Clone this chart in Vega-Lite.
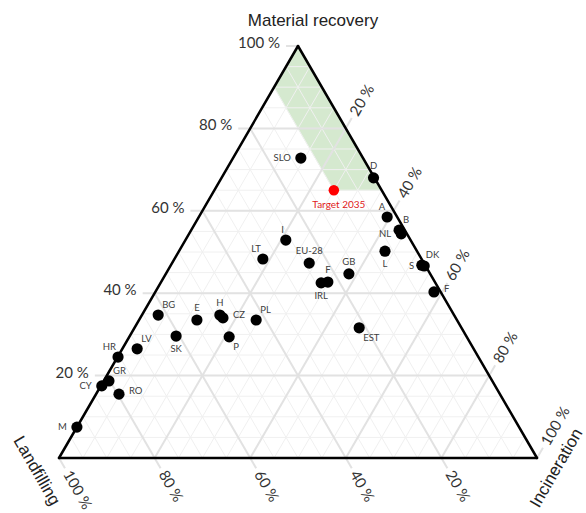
{
  "$schema": "https://vega.github.io/schema/vega-lite/v6.json",
  "width": 478,
  "height": 412,
  "autosize": "none",
  "padding": {"left": 59, "top": 46, "right": 49, "bottom": 55},
  "background": "white",
  "config": {"view": {"stroke": null}},
  "datasets": {
    "grid": [
      {"a":"m","v":0.05},{"a":"m","v":0.1},{"a":"m","v":0.15},{"a":"m","v":0.2},{"a":"m","v":0.25},{"a":"m","v":0.3},{"a":"m","v":0.35},{"a":"m","v":0.4},{"a":"m","v":0.45},{"a":"m","v":0.5},{"a":"m","v":0.55},{"a":"m","v":0.6},{"a":"m","v":0.65},{"a":"m","v":0.7},{"a":"m","v":0.75},{"a":"m","v":0.8},{"a":"m","v":0.85},{"a":"m","v":0.9},{"a":"m","v":0.95},
      {"a":"i","v":0.05},{"a":"i","v":0.1},{"a":"i","v":0.15},{"a":"i","v":0.2},{"a":"i","v":0.25},{"a":"i","v":0.3},{"a":"i","v":0.35},{"a":"i","v":0.4},{"a":"i","v":0.45},{"a":"i","v":0.5},{"a":"i","v":0.55},{"a":"i","v":0.6},{"a":"i","v":0.65},{"a":"i","v":0.7},{"a":"i","v":0.75},{"a":"i","v":0.8},{"a":"i","v":0.85},{"a":"i","v":0.9},{"a":"i","v":0.95},
      {"a":"l","v":0.05},{"a":"l","v":0.1},{"a":"l","v":0.15},{"a":"l","v":0.2},{"a":"l","v":0.25},{"a":"l","v":0.3},{"a":"l","v":0.35},{"a":"l","v":0.4},{"a":"l","v":0.45},{"a":"l","v":0.5},{"a":"l","v":0.55},{"a":"l","v":0.6},{"a":"l","v":0.65},{"a":"l","v":0.7},{"a":"l","v":0.75},{"a":"l","v":0.8},{"a":"l","v":0.85},{"a":"l","v":0.9},{"a":"l","v":0.95}
    ],
    "major": [
      {"a":"m","v":0.2,"t":"20 %"},{"a":"m","v":0.4,"t":"40 %"},{"a":"m","v":0.6,"t":"60 %"},{"a":"m","v":0.8,"t":"80 %"},{"a":"m","v":1.0,"t":"100 %"},
      {"a":"i","v":0.2,"t":"20 %"},{"a":"i","v":0.4,"t":"40 %"},{"a":"i","v":0.6,"t":"60 %"},{"a":"i","v":0.8,"t":"80 %"},{"a":"i","v":1.0,"t":"100 %"},
      {"a":"l","v":0.2,"t":"20 %"},{"a":"l","v":0.4,"t":"40 %"},{"a":"l","v":0.6,"t":"60 %"},{"a":"l","v":0.8,"t":"80 %"},{"a":"l","v":1.0,"t":"100 %"}
    ],
    "edges": [{"a":"m","v":0},{"a":"i","v":0},{"a":"l","v":0}],
    "zone": [
      {"o":1,"m":1.0,"i":0.0},{"o":2,"m":0.9,"i":0.0},{"o":3,"m":0.65,"i":0.25},{"o":4,"m":0.65,"i":0.35}
    ],
    "titles": [
      {"t":"Material recovery","m":1,"i":0},{"t":"Landfilling","m":0,"i":0},{"t":"Incineration","m":0,"i":1}
    ],
    "countries": [
      {"c":"SLO","m":0.728,"i":0.142,"pos":"W"},
      {"c":"D","m":0.680,"i":0.318,"pos":"N"},
      {"c":"A","m":0.585,"i":0.394,"pos":"NW"},
      {"c":"B","m":0.553,"i":0.435,"pos":"NE"},
      {"c":"NL","m":0.544,"i":0.444,"pos":"W"},
      {"c":"L","m":0.502,"i":0.431,"pos":"S"},
      {"c":"DK","m":0.468,"i":0.525,"pos":"NE"},
      {"c":"S","m":0.466,"i":0.531,"pos":"W"},
      {"c":"F","m":0.403,"i":0.583,"pos":"E"},
      {"c":"EST","m":0.316,"i":0.470,"pos":"SE"},
      {"c":"GB","m":0.447,"i":0.383,"pos":"N"},
      {"c":"F","m":0.427,"i":0.349,"pos":"N"},
      {"c":"IRL","m":0.425,"i":0.336,"pos":"S"},
      {"c":"EU-28","m":0.473,"i":0.287,"pos":"N"},
      {"c":"I","m":0.529,"i":0.210,"pos":"NW"},
      {"c":"LT","m":0.483,"i":0.185,"pos":"NW"},
      {"c":"BG","m":0.347,"i":0.034,"pos":"NE"},
      {"c":"E","m":0.335,"i":0.121,"pos":"N"},
      {"c":"H","m":0.347,"i":0.163,"pos":"N"},
      {"c":"CZ","m":0.340,"i":0.173,"pos":"E"},
      {"c":"PL","m":0.335,"i":0.245,"pos":"NE"},
      {"c":"P","m":0.294,"i":0.209,"pos":"SE"},
      {"c":"SK","m":0.296,"i":0.097,"pos":"S"},
      {"c":"LV","m":0.265,"i":0.031,"pos":"NE"},
      {"c":"HR","m":0.245,"i":0.001,"pos":"NW"},
      {"c":"GR","m":0.187,"i":0.011,"pos":"NE"},
      {"c":"CY","m":0.175,"i":0.002,"pos":"W"},
      {"c":"RO","m":0.155,"i":0.048,"pos":"E"},
      {"c":"M","m":0.075,"i":0.000,"pos":"W"}
    ],
    "target": [{"c":"Target 2035","m":0.65,"i":0.25}]
  },
  "encoding": {
    "x": {"field":"x","type":"quantitative","scale":{"domain":[0,1],"nice":false,"zero":false},"axis":null},
    "y": {"field":"y","type":"quantitative","scale":{"domain":[0,1],"nice":false,"zero":false},"axis":null}
  },
  "layer": [
    {
      "data": {"name":"zone"},
      "transform": [
        {"calculate":"datum.i + datum.m/2","as":"x"},
        {"calculate":"datum.m","as":"y"}
      ],
      "mark": {"type":"line","interpolate":"linear-closed","fill":"#d5e9cf","stroke":"#d5e9cf","strokeWidth":0.5,"clip":false},
      "encoding": {"order":{"field":"o","type":"quantitative"}}
    },
    {
      "data": {"name":"grid"},
      "transform": [
        {"calculate":"datum.a=='m' ? datum.v : 0","as":"m1"},
        {"calculate":"datum.a=='m' ? 0 : (datum.a=='i' ? datum.v : 1-datum.v)","as":"i1"},
        {"calculate":"datum.a=='m' ? datum.v : 1-datum.v","as":"m2"},
        {"calculate":"datum.a=='m' ? 1-datum.v : (datum.a=='i' ? datum.v : 0)","as":"i2"},
        {"calculate":"datum.i1 + datum.m1/2","as":"x"},
        {"calculate":"datum.m1","as":"y"},
        {"calculate":"datum.i2 + datum.m2/2","as":"x2"},
        {"calculate":"datum.m2","as":"y2"}
      ],
      "mark": {"type":"rule","color":"#f0f0f0","strokeWidth":1},
      "encoding": {"x2":{"field":"x2"},"y2":{"field":"y2"}}
    },
    {
      "data": {"name":"major"},
      "transform": [
        {"calculate":"datum.a=='m' ? datum.v : (datum.a=='i' ? 0 : -0.025)","as":"m1"},
        {"calculate":"datum.a=='m' ? -0.025 : (datum.a=='i' ? datum.v : 1-datum.v+0.025)","as":"i1"},
        {"calculate":"datum.a=='m' ? datum.v : (datum.a=='i' ? 1-datum.v+0.025 : 1-datum.v)","as":"m2"},
        {"calculate":"datum.a=='m' ? 1-datum.v : (datum.a=='i' ? datum.v : 0)","as":"i2"},
        {"calculate":"datum.i1 + datum.m1/2","as":"x"},
        {"calculate":"datum.m1","as":"y"},
        {"calculate":"datum.i2 + datum.m2/2","as":"x2"},
        {"calculate":"datum.m2","as":"y2"}
      ],
      "mark": {"type":"rule","color":"#e2e2e2","strokeWidth":2},
      "encoding": {"x2":{"field":"x2"},"y2":{"field":"y2"}}
    },
    {
      "data": {"name":"edges"},
      "transform": [
        {"calculate":"datum.a=='m' ? datum.v : 0","as":"m1"},
        {"calculate":"datum.a=='m' ? 0 : (datum.a=='i' ? datum.v : 1-datum.v)","as":"i1"},
        {"calculate":"datum.a=='m' ? datum.v : 1-datum.v","as":"m2"},
        {"calculate":"datum.a=='m' ? 1-datum.v : (datum.a=='i' ? datum.v : 0)","as":"i2"},
        {"calculate":"datum.i1 + datum.m1/2","as":"x"},
        {"calculate":"datum.m1","as":"y"},
        {"calculate":"datum.i2 + datum.m2/2","as":"x2"},
        {"calculate":"datum.m2","as":"y2"}
      ],
      "mark": {"type":"rule","color":"#000000","strokeWidth":2.5,"strokeCap":"round"},
      "encoding": {"x2":{"field":"x2"},"y2":{"field":"y2"}}
    },
    {
      "data": {"name":"major"},
      "transform": [
        {"filter":"datum.a=='m'"},
        {"calculate":"-0.025 + datum.v/2","as":"x"},
        {"calculate":"datum.v","as":"y"}
      ],
      "mark": {"type":"text","align":"right","baseline":"middle","dx":-6,"dy":-3,"font":"Lato","fontSize":15,"color":"#333333"},
      "encoding": {"text":{"field":"t"}}
    },
    {
      "data": {"name":"major"},
      "transform": [
        {"filter":"datum.a=='i'"},
        {"calculate":"datum.v + (1-datum.v+0.025)/2","as":"x"},
        {"calculate":"1-datum.v+0.025","as":"y"}
      ],
      "mark": {"type":"text","align":"left","baseline":"middle","angle":-60,"dx":4,"font":"Lato","fontSize":15,"color":"#333333"},
      "encoding": {"text":{"field":"t"}}
    },
    {
      "data": {"name":"major"},
      "transform": [
        {"filter":"datum.a=='l'"},
        {"calculate":"1-datum.v+0.025 - 0.0125","as":"x"},
        {"calculate":"-0.025","as":"y"}
      ],
      "mark": {"type":"text","align":"left","baseline":"middle","angle":60,"dx":4,"font":"Lato","fontSize":15,"color":"#333333"},
      "encoding": {"text":{"field":"t"}}
    },
    {
      "data": {"name":"titles"},
      "transform": [
        {"calculate":"datum.i + datum.m/2","as":"x"},
        {"calculate":"datum.m","as":"y"}
      ],
      "layer": [
        {
          "transform": [{"filter":"datum.t=='Material recovery'"}],
          "mark": {"type":"text","align":"center","baseline":"middle","dx":15,"dy":-25,"font":"Liberation Sans","fontSize":17,"color":"#222222"},
          "encoding": {"text":{"field":"t"}}
        },
        {
          "transform": [{"filter":"datum.t=='Landfilling'"}],
          "mark": {"type":"text","align":"center","baseline":"middle","angle":60,"dx":0,"dy":26,"font":"Liberation Sans","fontSize":17,"color":"#222222"},
          "encoding": {"text":{"field":"t"}}
        },
        {
          "transform": [{"filter":"datum.t=='Incineration'"}],
          "mark": {"type":"text","align":"center","baseline":"middle","angle":-60,"dx":1,"dy":22,"font":"Liberation Sans","fontSize":17,"color":"#222222"},
          "encoding": {"text":{"field":"t"}}
        }
      ]
    },
    {
      "data": {"name":"countries"},
      "transform": [
        {"calculate":"datum.i + datum.m/2","as":"x"},
        {"calculate":"datum.m","as":"y"}
      ],
      "layer": [
        {"mark": {"type":"circle","size":125,"color":"#000000","opacity":1}},
        {"transform":[{"filter":"datum.pos=='N'"}],"mark":{"type":"text","align":"center","baseline":"middle","dy":-12,"font":"Lato","fontSize":9.5,"color":"#404040"},"encoding":{"text":{"field":"c"}}},
        {"transform":[{"filter":"datum.pos=='S'"}],"mark":{"type":"text","align":"center","baseline":"middle","dy":13,"font":"Lato","fontSize":9.5,"color":"#404040"},"encoding":{"text":{"field":"c"}}},
        {"transform":[{"filter":"datum.pos=='E'"}],"mark":{"type":"text","align":"left","baseline":"middle","dx":10,"dy":-3,"font":"Lato","fontSize":9.5,"color":"#404040"},"encoding":{"text":{"field":"c"}}},
        {"transform":[{"filter":"datum.pos=='W'"}],"mark":{"type":"text","align":"right","baseline":"middle","dx":-10,"dy":0,"font":"Lato","fontSize":9.5,"color":"#404040"},"encoding":{"text":{"field":"c"}}},
        {"transform":[{"filter":"datum.pos=='NE'"}],"mark":{"type":"text","align":"left","baseline":"middle","dx":4,"dy":-10,"font":"Lato","fontSize":9.5,"color":"#404040"},"encoding":{"text":{"field":"c"}}},
        {"transform":[{"filter":"datum.pos=='NW'"}],"mark":{"type":"text","align":"right","baseline":"middle","dx":-2,"dy":-10,"font":"Lato","fontSize":9.5,"color":"#404040"},"encoding":{"text":{"field":"c"}}},
        {"transform":[{"filter":"datum.pos=='SE'"}],"mark":{"type":"text","align":"left","baseline":"middle","dx":4,"dy":10,"font":"Lato","fontSize":9.5,"color":"#404040"},"encoding":{"text":{"field":"c"}}}
      ]
    },
    {
      "data": {"name":"target"},
      "transform": [
        {"calculate":"datum.i + datum.m/2","as":"x"},
        {"calculate":"datum.m","as":"y"}
      ],
      "layer": [
        {"mark": {"type":"circle","size":110,"color":"#ff0000","opacity":1}},
        {"mark": {"type":"text","align":"center","baseline":"middle","dx":5,"dy":15,"font":"Lato","fontSize":10,"color":"#e02020"},"encoding":{"text":{"field":"c"}}}
      ]
    }
  ]
}
